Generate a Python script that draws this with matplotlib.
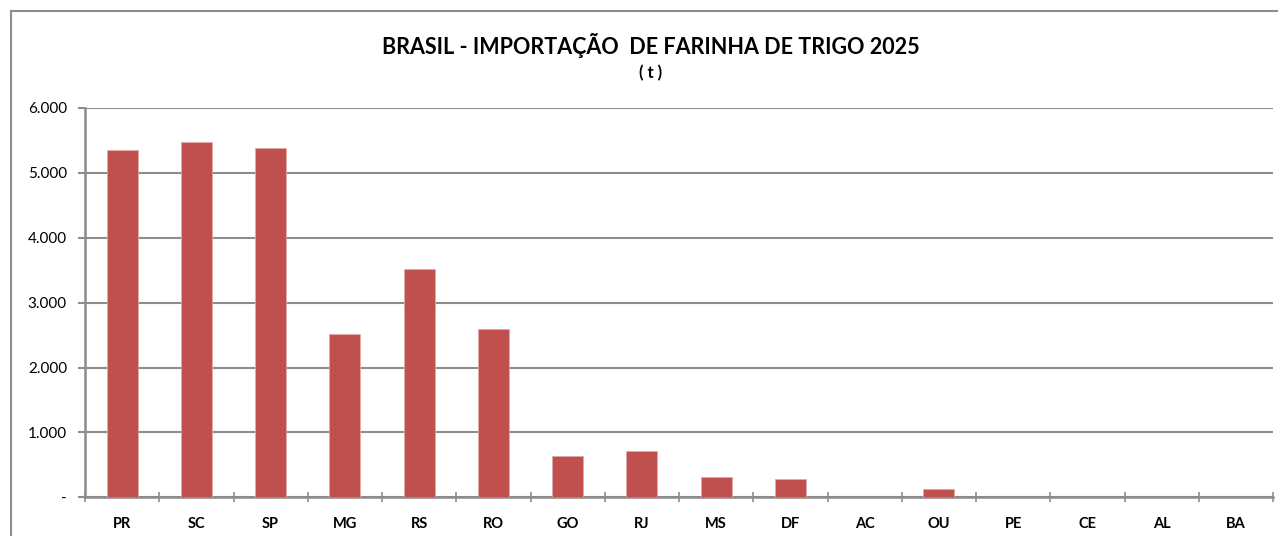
import matplotlib
matplotlib.use("Agg")
import matplotlib.pyplot as plt
from matplotlib.lines import Line2D
from matplotlib.ticker import FuncFormatter, FixedLocator
import numpy as np

plt.rcParams['font.family'] = ['Lato', 'DejaVu Sans']

# data (tonnes)
states = ['PR', 'SC', 'SP', 'MG', 'RS', 'RO', 'GO', 'RJ', 'MS', 'DF',
          'AC', 'OU', 'PE', 'CE', 'AL', 'BA']
imports_t = [5350, 5475, 5380, 2520, 3515, 2590, 640, 708, 317, 286,
             0, 125, 0, 0, 0, 0]
y_ticks = [0, 1000, 2000, 3000, 4000, 5000, 6000]

BAR_COLOR = '#C0504D'
GRID_COLOR = '#8C8C8C'


def fmt_thousands(v, pos):
    if v == 0:
        return '-'
    return f'{int(v):,}'.replace(',', '.')


fig = plt.figure(figsize=(12.78, 5.36), dpi=100)
ax = fig.add_axes([85 / 1278, 1 - 497.3 / 536, (1273 - 85) / 1278, (497.3 - 108) / 536])

x = np.arange(len(states))
ax.bar(x, imports_t, width=0.42, color=BAR_COLOR, edgecolor='#E3A9A7',
       linewidth=0.6, zorder=3)

ax.set_xlim(-0.5, len(states) - 0.5)
ax.set_ylim(0, 6000)
ax.set_yticks(y_ticks)
ax.yaxis.set_major_formatter(FuncFormatter(fmt_thousands))
ax.grid(axis='y', color=GRID_COLOR, linewidth=1.5, zorder=1)

ax.set_xticks(x)
ax.set_xticklabels(states, fontweight='bold', fontsize=10.5)
ax.xaxis.set_minor_locator(FixedLocator(np.arange(-0.5, len(states), 1.0)))
ax.tick_params(axis='x', which='major', length=0, pad=14)
ax.tick_params(axis='x', which='minor', direction='inout', length=7,
               width=1.2, color=GRID_COLOR)
ax.tick_params(axis='y', direction='out', length=5, width=1.5,
               color=GRID_COLOR, labelsize=11, pad=8)

for side in ['top', 'right']:
    ax.spines[side].set_visible(False)
for side in ['left', 'bottom']:
    ax.spines[side].set_color(GRID_COLOR)
    ax.spines[side].set_linewidth(1.8)
ax.set_axisbelow(True)

fig.text(651 / 1278, 1 - 45 / 536, 'BRASIL - IMPORTAÇÃO  DE FARINHA DE TRIGO 2025',
         ha='center', va='center', fontsize=15.5, fontweight='bold')
fig.text(651 / 1278, 1 - 73 / 536, '( t )', ha='center', va='center',
         fontsize=12, fontweight='bold')

# outer chart border (only the left and top edges are visible)
fig.add_artist(Line2D([11 / 1278, 11 / 1278], [0, 1 - 11 / 536],
                      transform=fig.transFigure, color='#8C8C8C', linewidth=1.5))
fig.add_artist(Line2D([11 / 1278, 1], [1 - 11 / 536, 1 - 11 / 536],
                      transform=fig.transFigure, color='#8C8C8C', linewidth=1.5))

fig.savefig('out.png', dpi=100)
